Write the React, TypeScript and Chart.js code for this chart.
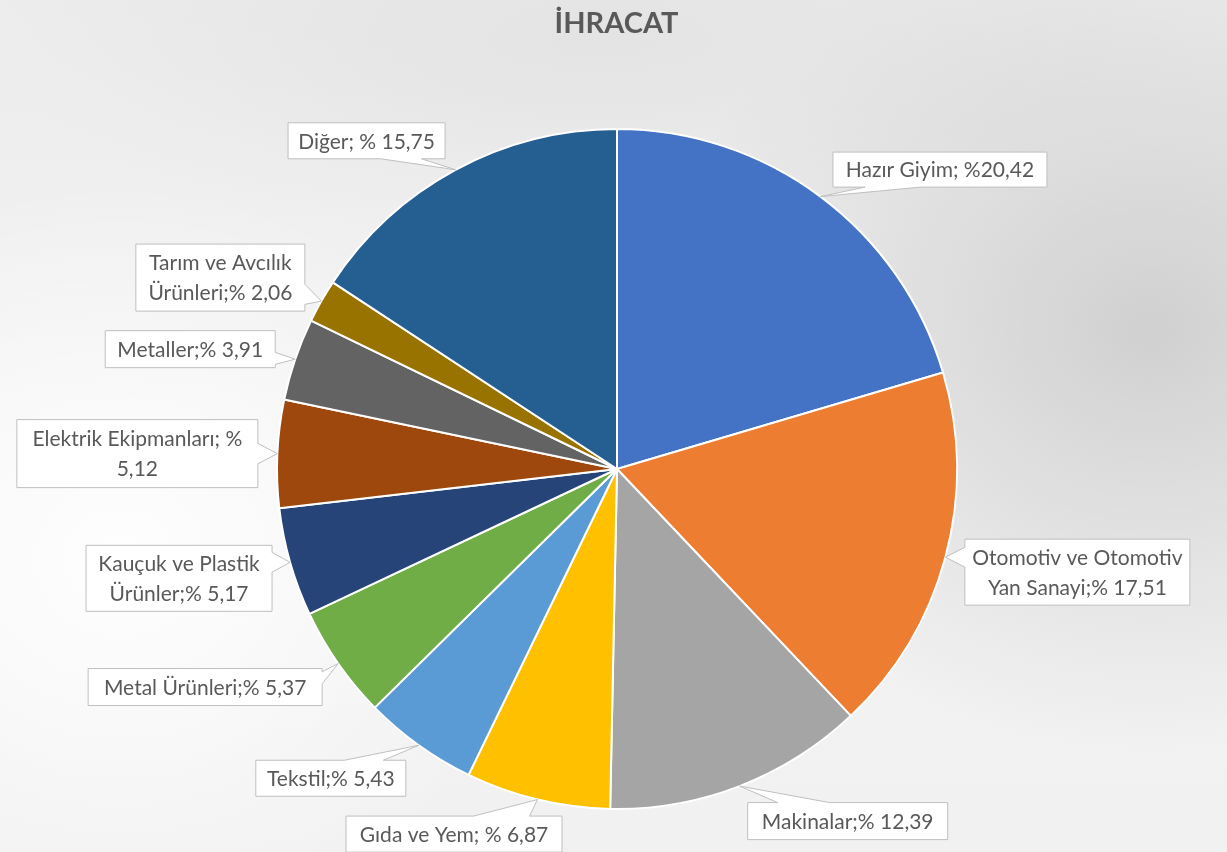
import React, { useEffect, useRef } from "react";
import { Chart, registerables } from "chart.js";

Chart.register(...registerables);

const TITLE = "İHRACAT";

const categories = [
  "Hazır Giyim",
  "Otomotiv ve Otomotiv Yan Sanayi",
  "Makinalar",
  "Gıda ve Yem",
  "Tekstil",
  "Metal Ürünleri",
  "Kauçuk ve Plastik Ürünler",
  "Elektrik Ekipmanları",
  "Metaller",
  "Tarım ve Avcılık Ürünleri",
  "Diğer",
];

const values = [20.42, 17.51, 12.39, 6.87, 5.43, 5.37, 5.17, 5.12, 3.91, 2.06, 15.75];

const labelTexts = [
  ["Hazır Giyim; %20,42"],
  ["Otomotiv ve Otomotiv", "Yan Sanayi;% 17,51"],
  ["Makinalar;% 12,39"],
  ["Gıda ve Yem; % 6,87"],
  ["Tekstil;% 5,43"],
  ["Metal Ürünleri;% 5,37"],
  ["Kauçuk ve Plastik", "Ürünler;% 5,17"],
  ["Elektrik Ekipmanları; %", "5,12"],
  ["Metaller;% 3,91"],
  ["Tarım ve Avcılık", "Ürünleri;% 2,06"],
  ["Diğer; % 15,75"],
];

const colors = [
  "#4472C4",
  "#ED7D31",
  "#A5A5A5",
  "#FFC000",
  "#5B9BD5",
  "#70AD47",
  "#264478",
  "#9E480E",
  "#636363",
  "#997300",
  "#255E91",
];

// label box layout: offset of box centre from slice outer mid-point, box size, pointer side
const labelOffsets = [
  [119.5, -27], [132, 15], [108, 35], [-83.5, 34.5], [-88, 33], [-133, 23.5],
  [-111, 16], [-140, 0], [-105, -10], [-101, -23.5], [-89, -29],
];
const labelSizes = [
  [214, 35], [225, 66], [200, 37], [216, 36], [150, 36], [234, 37],
  [186, 66], [241, 68], [170, 37], [169, 67], [157, 36],
];
const labelSides = ["b", "l", "t", "t", "t", "r", "r", "r", "r", "r", "b"];

const TEXT_COLOR = "#595959";
const FONT = "Lato, 'Open Sans', sans-serif";

function clamp(v: number, a: number, b: number) {
  return Math.max(a, Math.min(b, v));
}

function drawCallout(
  ctx: CanvasRenderingContext2D,
  x0: number, y0: number, w: number, h: number,
  side: string, tx: number, ty: number
) {
  const x1 = x0 + w;
  const y1 = y0 + h;
  const pts: number[][] = [];
  pts.push([x0, y0]);
  if (side === "t") {
    const c = clamp(tx, x0 + 0.28 * w, x1 - 0.28 * w);
    const hw = Math.min(0.13 * w, 28);
    pts.push([c - hw, y0], [tx, ty], [c + hw, y0]);
  }
  pts.push([x1, y0]);
  if (side === "r") {
    const c = clamp(ty, y0 + 0.25 * h, y1 - 0.25 * h);
    const hw = Math.max(0.15 * h, 6);
    pts.push([x1, c - hw], [tx, ty], [x1, c + hw]);
  }
  pts.push([x1, y1]);
  if (side === "b") {
    const c = clamp(tx, x0 + 0.28 * w, x1 - 0.28 * w);
    const hw = Math.min(0.13 * w, 28);
    pts.push([c + hw, y1], [tx, ty], [c - hw, y1]);
  }
  pts.push([x0, y1]);
  if (side === "l") {
    const c = clamp(ty, y0 + 0.25 * h, y1 - 0.25 * h);
    const hw = Math.max(0.15 * h, 6);
    pts.push([x0, c + hw], [tx, ty], [x0, c - hw]);
  }
  ctx.beginPath();
  pts.forEach((p, i) => (i === 0 ? ctx.moveTo(p[0], p[1]) : ctx.lineTo(p[0], p[1])));
  ctx.closePath();
  ctx.fillStyle = "#FFFFFF";
  ctx.fill();
  ctx.lineWidth = 1;
  ctx.strokeStyle = "#BFBFBF";
  ctx.stroke();
}

const labelPlugin = {
  id: "calloutLabels",
  afterDraw(chart: any) {
    const ctx: CanvasRenderingContext2D = chart.ctx;
    const meta = chart.getDatasetMeta(0);
    ctx.save();
    // title
    ctx.fillStyle = TEXT_COLOR;
    ctx.font = `bold 29px ${FONT}`;
    ctx.textAlign = "center";
    ctx.textBaseline = "middle";
    ctx.fillText(TITLE, chart.width / 2 + 3, 24);

    meta.data.forEach((arc: any, i: number) => {
      const p = arc.getProps(["x", "y", "startAngle", "endAngle", "outerRadius"], true);
      const mid = (p.startAngle + p.endAngle) / 2;
      const tx = p.x + Math.cos(mid) * p.outerRadius;
      const ty = p.y + Math.sin(mid) * p.outerRadius;
      const [w, h] = labelSizes[i];
      const cx = tx + labelOffsets[i][0];
      const cy = ty + labelOffsets[i][1];
      drawCallout(ctx, cx - w / 2, cy - h / 2, w, h, labelSides[i], tx, ty);
      const lines = labelTexts[i];
      ctx.fillStyle = TEXT_COLOR;
      ctx.font = `21px ${FONT}`;
      ctx.textAlign = "center";
      ctx.textBaseline = "middle";
      const lh = 30;
      lines.forEach((t, k) => {
        ctx.fillText(t, cx, cy + (k - (lines.length - 1) / 2) * lh + 1);
      });
    });
    ctx.restore();
  },
};

export default function App() {
  const ref = useRef<HTMLCanvasElement | null>(null);
  useEffect(() => {
    if (!ref.current) return;
    const chart = new Chart(ref.current, {
      type: "pie",
      data: {
        labels: categories,
        datasets: [
          {
            data: values,
            backgroundColor: colors,
            borderColor: "#FFFFFF",
            borderWidth: 2,
            hoverBorderWidth: 2,
            hoverOffset: 0,
            offset: 0,
          },
        ],
      },
      options: {
        responsive: false,
        animation: false,
        events: [],
        layout: { padding: { left: 276, right: 269, top: 128, bottom: 42 } },
        plugins: {
          legend: { display: false },
          title: { display: false },
          tooltip: { enabled: false },
        },
      },
      plugins: [labelPlugin],
    });
    return () => chart.destroy();
  }, []);

  return (
    <div
      style={{
        position: "absolute",
        left: 0,
        top: 0,
        width: 1227,
        height: 852,
        overflow: "hidden",
        background:
          "radial-gradient(ellipse 420px 380px at 120px 560px, rgba(255,255,255,0.95), rgba(255,255,255,0) 100%)," +
          "radial-gradient(ellipse 500px 420px at 1150px 330px, rgba(200,200,200,0.8), rgba(200,200,200,0) 100%)," +
          "radial-gradient(ellipse 600px 200px at 600px 40px, rgba(225,225,225,0.8), rgba(225,225,225,0) 100%)," +
          "linear-gradient(180deg, #ececec 0%, #f3f3f3 50%, #f1f1f1 100%)",
      }}
    >
      <canvas ref={ref} width={1227} height={852} style={{ display: "block" }} />
    </div>
  );
}
